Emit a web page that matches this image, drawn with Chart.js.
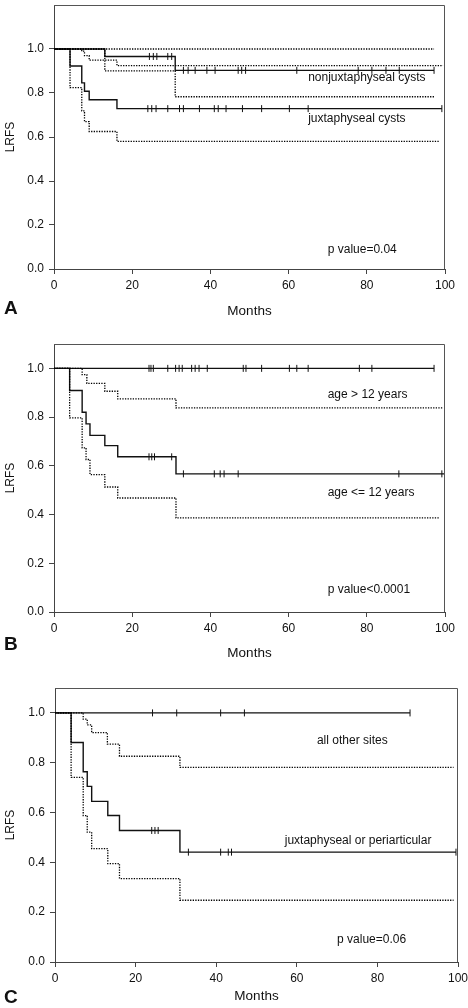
<!DOCTYPE html>
<html>
<head>
<meta charset="utf-8">
<script src="https://cdn.jsdelivr.net/npm/chart.js@4.4.1/dist/chart.umd.min.js"></script>
<style>
  html, body { margin: 0; padding: 0; background: #fff; }
  body { width: 468px; height: 1008px; position: relative; overflow: hidden; }
  canvas { position: absolute; left: 0; }
</style>
</head>
<body>
<canvas id="chart-a" width="468" height="324" style="top:0px"></canvas>
<canvas id="chart-b" width="468" height="336" style="top:330px"></canvas>
<canvas id="chart-c" width="480" height="334" style="top:675px"></canvas>

<script>
/* ============================
   DATI
============================ */

// A - nonjuxtaphyseal cysts
const mesiA_non = [0, 13, 31, 97.2];
const lrfsA_non = [1, 0.966, 0.903, 0.903];
const censA_non = [24.4, 25.4, 26.3, 29.1, 30.1, 33.1, 34.3, 36.1, 39.1, 41.2, 47.1, 48.0, 49.0, 62.1, 77.8, 81.3, 84.9, 88.3, 97.2];
const mesiA_nonInf = [0, 13, 31, 97.2];
const lrfsA_nonInf = [1, 0.901, 0.783, 0.783];
const mesiA_nonSup = [0, 97.2];
const lrfsA_nonSup = [1, 1];

// A - juxtaphyseal cysts
const mesiA_jux = [0, 4.1, 7.1, 7.8, 9.0, 16.1, 99.2];
const lrfsA_jux = [1, 0.923, 0.846, 0.808, 0.769, 0.729, 0.729];
const censA_jux = [24.0, 25.0, 26.1, 29.1, 32.1, 33.1, 37.2, 41.0, 42.0, 44.0, 48.2, 53.1, 60.2, 65.0, 99.2];
const mesiA_juxInf = [0, 4.1, 7.1, 7.8, 9.0, 16.1, 98.7];
const lrfsA_juxInf = [1, 0.824, 0.719, 0.670, 0.625, 0.58, 0.58];
const mesiA_juxSup = [0, 7.1, 7.8, 9.0, 16.1, 99.5];
const lrfsA_juxSup = [1, 0.99, 0.97, 0.949, 0.924, 0.924];

// B - age > 12 years
const mesiB_over = [0, 97.2];
const lrfsB_over = [1, 1];
const censB_over = [24.3, 24.8, 25.4, 29.1, 31.1, 32.0, 32.8, 35.2, 36.1, 37.1, 39.2, 48.4, 49.1, 53.1, 60.2, 62.1, 65.0, 78.1, 81.3, 97.2];
const mesiB_overInf = [0, 7.2, 8.4, 13.0, 16.3, 31.2, 99.5];
const lrfsB_overInf = [1, 0.974, 0.938, 0.906, 0.875, 0.838, 0.838];

// B - age <= 12 years
const mesiB_under = [0, 4.0, 7.2, 8.2, 9.2, 13.0, 16.3, 31.2, 100];
const lrfsB_under = [1, 0.909, 0.82, 0.772, 0.725, 0.683, 0.637, 0.567, 0.567];
const censB_under = [24.3, 25.0, 25.7, 30.1, 33.1, 41.0, 42.5, 43.5, 47.1, 88.2, 99.2];
const mesiB_underInf = [0, 4.0, 7.2, 8.2, 9.2, 13.0, 16.3, 31.2, 98.7];
const lrfsB_underInf = [1, 0.797, 0.674, 0.626, 0.564, 0.513, 0.468, 0.386, 0.386];

// C - all other sites
const mesiC_altri = [0, 88.1];
const lrfsC_altri = [1, 1];
const censC_altri = [24.2, 30.2, 41.1, 47.0, 88.1];
const mesiC_altriInf = [0, 7.0, 8.0, 9.1, 13.0, 16.0, 31.0, 98.9];
const lrfsC_altriInf = [1, 0.975, 0.952, 0.921, 0.875, 0.826, 0.781, 0.781];

// C - juxtaphyseal or periarticular
const mesiC_jux = [0, 4.0, 7.0, 8.0, 9.1, 13.1, 16.0, 31.0, 99.5];
const lrfsC_jux = [1, 0.881, 0.764, 0.705, 0.645, 0.588, 0.528, 0.441, 0.441];
const censC_jux = [24.0, 24.8, 25.6, 33.1, 41.1, 43.0, 43.8, 99.5];
const mesiC_juxInf = [0, 4.0, 7.0, 8.0, 9.1, 13.1, 16.0, 31.0, 98.9];
const lrfsC_juxInf = [1, 0.741, 0.588, 0.521, 0.455, 0.395, 0.335, 0.248, 0.248];

const tickX = [0, 20, 40, 60, 80, 100];
const tickY = [0, 0.2, 0.4, 0.6, 0.8, 1.0];

/* ============================
   UTILITA
============================ */

const FONT = "'Liberation Sans', Arial, sans-serif";

function punti(mesi, valori) {
  return mesi.map((m, i) => ({ x: m, y: valori[i] }));
}

// valore della curva a gradini nel mese t
function valoreA(mesi, valori, t) {
  let v = valori[0];
  mesi.forEach((m, i) => { if (m <= t) v = valori[i]; });
  return v;
}

function curva(mesi, valori, tratteggio) {
  return {
    data: punti(mesi, valori),
    stepped: true,
    borderColor: tratteggio ? '#000' : '#111',
    borderWidth: tratteggio ? 1.3 : 1.4,
    borderDash: tratteggio ? [1.3, 1.3] : [],
    pointRadius: 0,
    fill: false
  };
}

function censure(tempi, mesi, valori) {
  return {
    type: 'scatter',
    data: tempi.map(t => ({ x: t, y: valoreA(mesi, valori, t) })),
    pointStyle: 'line',
    rotation: 90,
    pointRadius: 3.5,
    borderColor: '#111',
    borderWidth: 1,
    showLine: false
  };
}

/* ============================
   PLUGIN TESTI E CORNICE
============================ */

const testiPannello = {
  id: 'testiPannello',
  afterDraw(chart, args, opts) {
    const { ctx, chartArea, scales } = chart;
    ctx.save();

    // lati alto e destro della cornice
    ctx.strokeStyle = '#555';
    ctx.lineWidth = 1;
    ctx.beginPath();
    ctx.moveTo(chartArea.left, chartArea.top + 0.5);
    ctx.lineTo(chartArea.right - 0.5, chartArea.top + 0.5);
    ctx.lineTo(chartArea.right - 0.5, chartArea.bottom);
    ctx.stroke();

    // etichette delle curve
    ctx.fillStyle = '#111';
    ctx.font = '12px ' + FONT;
    ctx.textAlign = 'left';
    ctx.textBaseline = 'middle';
    opts.etichette.forEach(e => {
      ctx.fillText(e.testo, scales.x.getPixelForValue(e.x), scales.y.getPixelForValue(e.y));
    });

    // lettera del pannello
    ctx.font = 'bold 19px ' + FONT;
    ctx.textBaseline = 'alphabetic';
    ctx.fillText(opts.lettera, 4, opts.letteraY);
    ctx.restore();
  }
};

/* ============================
   PANNELLO
============================ */

function creaPannello(id, p) {
  const ctx = document.getElementById(id).getContext('2d');
  return new Chart(ctx, {
    type: 'line',
    data: { datasets: p.datasets },
    options: {
      responsive: false,
      animation: false,
      layout: { padding: p.padding },
      plugins: {
        legend: { display: false },
        tooltip: { enabled: false },
        testiPannello: { etichette: p.etichette, lettera: p.lettera, letteraY: p.letteraY }
      },
      scales: {
        x: {
          type: 'linear',
          min: 0,
          max: 100,
          afterBuildTicks: s => { s.ticks = tickX.map(v => ({ value: v })); },
          afterFit: s => { s.height = p.altezzaX; },
          ticks: { color: '#111', font: { family: FONT, size: 12 }, padding: 4, maxRotation: 0 },
          grid: { drawOnChartArea: false, tickLength: 5, color: '#444' },
          border: { color: '#444' },
          title: { display: true, text: 'Months', color: '#111', font: { family: FONT, size: 13.5 }, padding: 0 }
        },
        y: {
          min: 0,
          max: p.maxY,
          afterBuildTicks: s => { s.ticks = tickY.map(v => ({ value: v })); },
          afterFit: s => { s.width = p.larghezzaY; s.paddingTop = 0; s.paddingBottom = 0; },
          ticks: { color: '#111', font: { family: FONT, size: 12 }, padding: 5, callback: v => v.toFixed(1) },
          grid: { drawOnChartArea: false, tickLength: 5, color: '#444' },
          border: { color: '#444' },
          title: { display: true, text: 'LRFS', color: '#111', font: { family: FONT, size: 12 }, padding: { top: 3 } }
        }
      }
    },
    plugins: [testiPannello]
  });
}

/* ============================
   AVVIO
============================ */

creaPannello('chart-a', {
  maxY: 1.2,
  larghezzaY: 54,
  altezzaX: 50,
  padding: { top: 1, right: 23, bottom: 5, left: 0 },
  lettera: 'A',
  letteraY: 314,
  etichette: [
    { testo: 'nonjuxtaphyseal cysts', x: 65, y: 0.869 },
    { testo: 'juxtaphyseal cysts', x: 65, y: 0.685 },
    { testo: 'p value=0.04', x: 70, y: 0.09 }
  ],
  datasets: [
    curva(mesiA_nonSup, lrfsA_nonSup, true),
    curva(mesiA_nonInf, lrfsA_nonInf, true),
    curva(mesiA_juxSup, lrfsA_juxSup, true),
    curva(mesiA_juxInf, lrfsA_juxInf, true),
    curva(mesiA_non, lrfsA_non, false),
    curva(mesiA_jux, lrfsA_jux, false),
    censure(censA_non, mesiA_non, lrfsA_non),
    censure(censA_jux, mesiA_jux, lrfsA_jux)
  ]
});

creaPannello('chart-b', {
  maxY: 1.1,
  larghezzaY: 54,
  altezzaX: 49,
  padding: { top: 14, right: 23, bottom: 5, left: 0 },
  lettera: 'B',
  letteraY: 320,
  etichette: [
    { testo: 'age > 12 years', x: 70, y: 0.89 },
    { testo: 'age <= 12 years', x: 70, y: 0.491 },
    { testo: 'p value<0.0001', x: 70, y: 0.09 }
  ],
  datasets: [
    curva(mesiB_overInf, lrfsB_overInf, true),
    curva(mesiB_underInf, lrfsB_underInf, true),
    curva(mesiB_over, lrfsB_over, false),
    curva(mesiB_under, lrfsB_under, false),
    censure(censB_over, mesiB_over, lrfsB_over),
    censure(censB_under, mesiB_under, lrfsB_under)
  ]
});

creaPannello('chart-c', {
  maxY: 1.1,
  larghezzaY: 55,
  altezzaX: 42,
  padding: { top: 13, right: 22, bottom: 5, left: 0 },
  lettera: 'C',
  letteraY: 328,
  etichette: [
    { testo: 'all other sites', x: 65, y: 0.888 },
    { testo: 'juxtaphyseal or periarticular', x: 57, y: 0.488 },
    { testo: 'p value=0.06', x: 70, y: 0.088 }
  ],
  datasets: [
    curva(mesiC_altriInf, lrfsC_altriInf, true),
    curva(mesiC_juxInf, lrfsC_juxInf, true),
    curva(mesiC_altri, lrfsC_altri, false),
    curva(mesiC_jux, lrfsC_jux, false),
    censure(censC_altri, mesiC_altri, lrfsC_altri),
    censure(censC_jux, mesiC_jux, lrfsC_jux)
  ]
});
</script>
</body>
</html>
